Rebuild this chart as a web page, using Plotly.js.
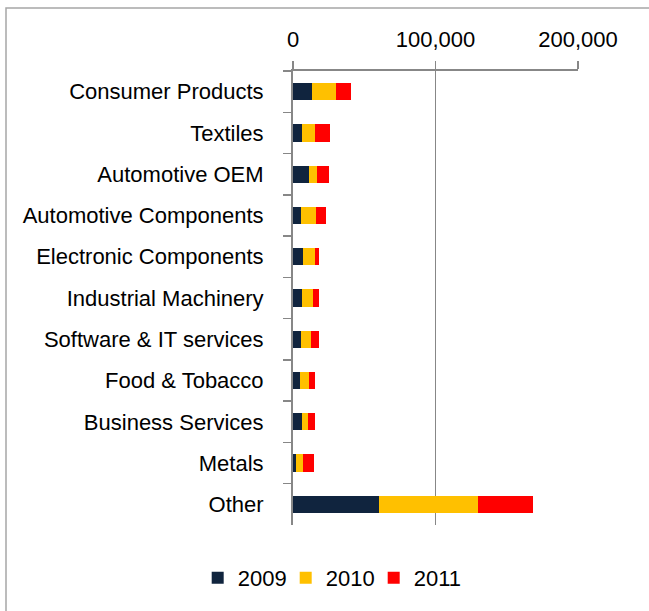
<!DOCTYPE html>
<html>
<head>
<meta charset="utf-8">
<script src="https://cdn.plot.ly/plotly-3.0.1.min.js"></script>
<style>
html,body{margin:0;padding:0;background:#fff;}
#chart{width:649px;height:611px;}
</style>
</head>
<body>
<div id="chart"></div>
<script>
const categories = ["Consumer Products","Textiles","Automotive OEM","Automotive Components","Electronic Components","Industrial Machinery","Software & IT services","Food & Tobacco","Business Services","Metals","Other"];
const v2009 = [13500, 6300, 11000, 5400, 7000, 6300, 5600, 4900, 6100, 1900, 60300];
const v2010 = [16600, 9100, 6100, 10500, 8400, 7500, 6800, 6300, 4200, 5300, 69200];
const v2011 = [10700, 10700, 7900, 7000, 3000, 4700, 5600, 4400, 5100, 7700, 39000];
const xTicks = [0, 100000, 200000];
const xTickText = ["0", "100,000", "200,000"];

const fontFam = '"Liberation Sans Narrow", "Arial Narrow", "Liberation Sans", Arial, sans-serif';
const axisGray = '#878787';

function tr(name, vals, color) {
  return {type:'bar', orientation:'h', name:name, y:categories, x:vals,
    marker:{color:color, line:{width:0}}, hoverinfo:'x+name'};
}
const data = [tr('2009', v2009, '#10243E'), tr('2010', v2010, '#FFC000'), tr('2011', v2011, '#FF0000')];

const layout = {
  width:649, height:611,
  margin:{l:293, r:71, t:71, b:86},
  paper_bgcolor:'#fff', plot_bgcolor:'#fff',
  barmode:'stack', bargap:0.58,
  font:{family:fontFam, size:22, color:'#000'},
  showlegend:true,
  legend:{orientation:'h', xref:'container', yref:'container', x:0.508, y:0.054,
    xanchor:'center', yanchor:'middle', font:{family:fontFam, size:22, color:'#000'},
    itemwidth:30, traceorder:'normal', entrywidth:43, entrywidthmode:'pixels'},
  xaxis:{side:'top', range:[0,200000], tickvals:xTicks, ticktext:xTickText,
    showgrid:true, gridcolor:axisGray, gridwidth:1.5, zeroline:false,
    showline:true, linecolor:axisGray, linewidth:2,
    ticks:'outside', ticklen:8, tickcolor:axisGray, tickwidth:1.5,
    ticklabelstandoff:5, tickfont:{family:fontFam, size:22, color:'#000'}, fixedrange:true},
  yaxis:{type:'category', autorange:'reversed', tickson:'boundaries',
    showline:true, linecolor:axisGray, linewidth:2, showgrid:false, zeroline:false,
    ticks:'outside', ticklen:8, tickcolor:axisGray, tickwidth:1.5,
    ticklabelstandoff:23, tickfont:{family:fontFam, size:22, color:'#000'}, fixedrange:true},
  shapes:[{type:'rect', xref:'paper', yref:'paper',
    x0:(6-293)/285, x1:(700-293)/285, y0:(525-660)/454, y1:(525-8)/454,
    line:{color:'#a6a6a6', width:1.5}, fillcolor:'rgba(0,0,0,0)', layer:'below'}]
};

Plotly.newPlot('chart', data, layout, {displayModeBar:false, staticPlot:true});
</script>
</body>
</html>
